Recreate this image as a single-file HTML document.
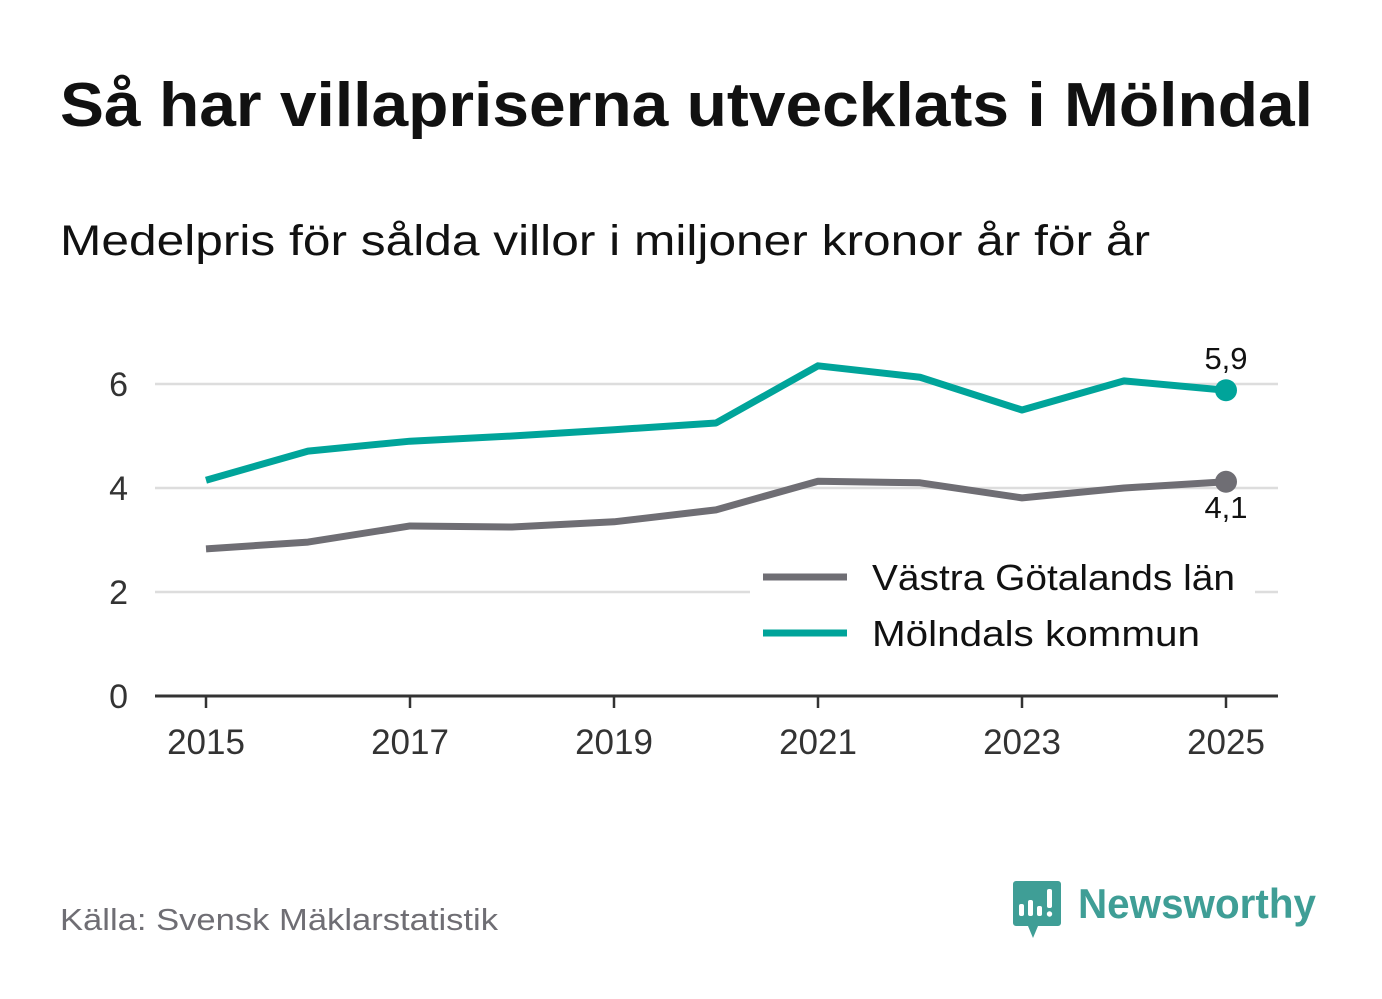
<!DOCTYPE html>
<html><head><meta charset="utf-8"><style>
body{margin:0;width:1382px;height:999px;background:#fff;font-family:"Liberation Sans",sans-serif;overflow:hidden}
</style></head><body>
<svg width="1382" height="999" style="position:absolute;left:0;top:0">
<text x="60" y="126" font-size="62" font-weight="bold" fill="#111" textLength="1253" lengthAdjust="spacingAndGlyphs">Så har villapriserna utvecklats i Mölndal</text>
<text x="60" y="255" font-size="43" fill="#111" textLength="1090" lengthAdjust="spacingAndGlyphs">Medelpris för sålda villor i miljoner kronor år för år</text>
<g id="grid"></g>
<g id="lines"></g>
<g>
<rect x="750" y="552" width="505" height="112" fill="#fff"/>
<line x1="763" y1="577" x2="847" y2="577" stroke="#6f6e74" stroke-width="7"/>
<text x="872" y="590" font-size="36" fill="#111" textLength="363" lengthAdjust="spacingAndGlyphs">Västra Götalands län</text>
<line x1="763" y1="633" x2="847" y2="633" stroke="#00a49a" stroke-width="7"/>
<text x="872" y="646" font-size="36" fill="#111" textLength="328" lengthAdjust="spacingAndGlyphs">Mölndals kommun</text>
</g>
<text x="60" y="930" font-size="31" fill="#6f6e74" textLength="438" lengthAdjust="spacingAndGlyphs">Källa: Svensk Mäklarstatistik</text>
<g>
<path d="M1016 881 h42 a3 3 0 0 1 3 3 v39 a3 3 0 0 1 -3 3 h-20 l-5 12 l-5 -12 h-12 a3 3 0 0 1 -3 -3 v-39 a3 3 0 0 1 3 -3z" fill="#3f9e96"/>
<rect x="1019" y="904" width="5" height="12" rx="2" fill="#fff"/><rect x="1028" y="900" width="5" height="16" rx="2" fill="#fff"/><rect x="1037" y="906" width="5" height="10" rx="2" fill="#fff"/><rect x="1047" y="889" width="5" height="19" rx="2" fill="#fff"/><circle cx="1049.5" cy="914" r="2.7" fill="#fff"/>
<text x="1078" y="918" font-size="42" font-weight="bold" fill="#3f9e96" textLength="238" lengthAdjust="spacingAndGlyphs">Newsworthy</text>
</g>
</svg>
<script>
const years=[2015,2016,2017,2018,2019,2020,2021,2022,2023,2024,2025];
const molndal=[4.15,4.71,4.9,5.0,5.12,5.25,6.35,6.13,5.5,6.06,5.88];
const vastra=[2.83,2.96,3.27,3.25,3.35,3.58,4.13,4.1,3.81,4.0,4.12];
const yTicks=[0,2,4,6];
const xTicks=[2015,2017,2019,2021,2023,2025];
const NS="http://www.w3.org/2000/svg";
const X=y=>206+(y-2015)*102, Y=v=>696-v*52;
function mk(t,a,p,txt){const e=document.createElementNS(NS,t);for(const k in a)e.setAttribute(k,a[k]);if(txt!=null)e.textContent=txt;p.appendChild(e);return e;}
const g=document.getElementById('grid'), L=document.getElementById('lines');
yTicks.forEach(v=>{
 if(v>0){const l=mk('line',{x1:155,x2:1278,y1:Y(v),y2:Y(v),stroke:'#ddd','stroke-width':2.5},g);
 
 }
 const t=mk('text',{x:128,y:Y(v)+12,'font-size':34,fill:'#333','text-anchor':'end'},g,v);
 
 
});
const ax=mk('line',{x1:155,x2:1278,y1:696,y2:696,stroke:'#333','stroke-width':3},g);


xTicks.forEach(y=>{
 const tk=mk('line',{x1:X(y),x2:X(y),y1:696,y2:708,stroke:'#333','stroke-width':2.5},g);
 
 
 const t=mk('text',{x:X(y),y:754,'font-size':35,fill:'#333','text-anchor':'middle'},g,y);
 
 
});
function series(vals,color,name,labelDy){
 const p=mk('polyline',{points:vals.map((v,i)=>X(years[i])+','+Y(v)).join(' '),fill:'none',stroke:color,'stroke-width':7,'stroke-linejoin':'round'},L);
 
 
 const n=vals.length-1;
 const c=mk('circle',{cx:X(years[n]),cy:Y(vals[n]),r:11,fill:color},L);
 
 
 const t=mk('text',{x:X(years[n]),y:Y(vals[n])+labelDy,'font-size':31,fill:'#111','text-anchor':'middle'},L,vals[n].toFixed(1).replace('.',','));
 
 
}
series(vastra,'#6f6e74','vastra',36);
series(molndal,'#00a49a','molndal',-21);
</script>
</body></html>
